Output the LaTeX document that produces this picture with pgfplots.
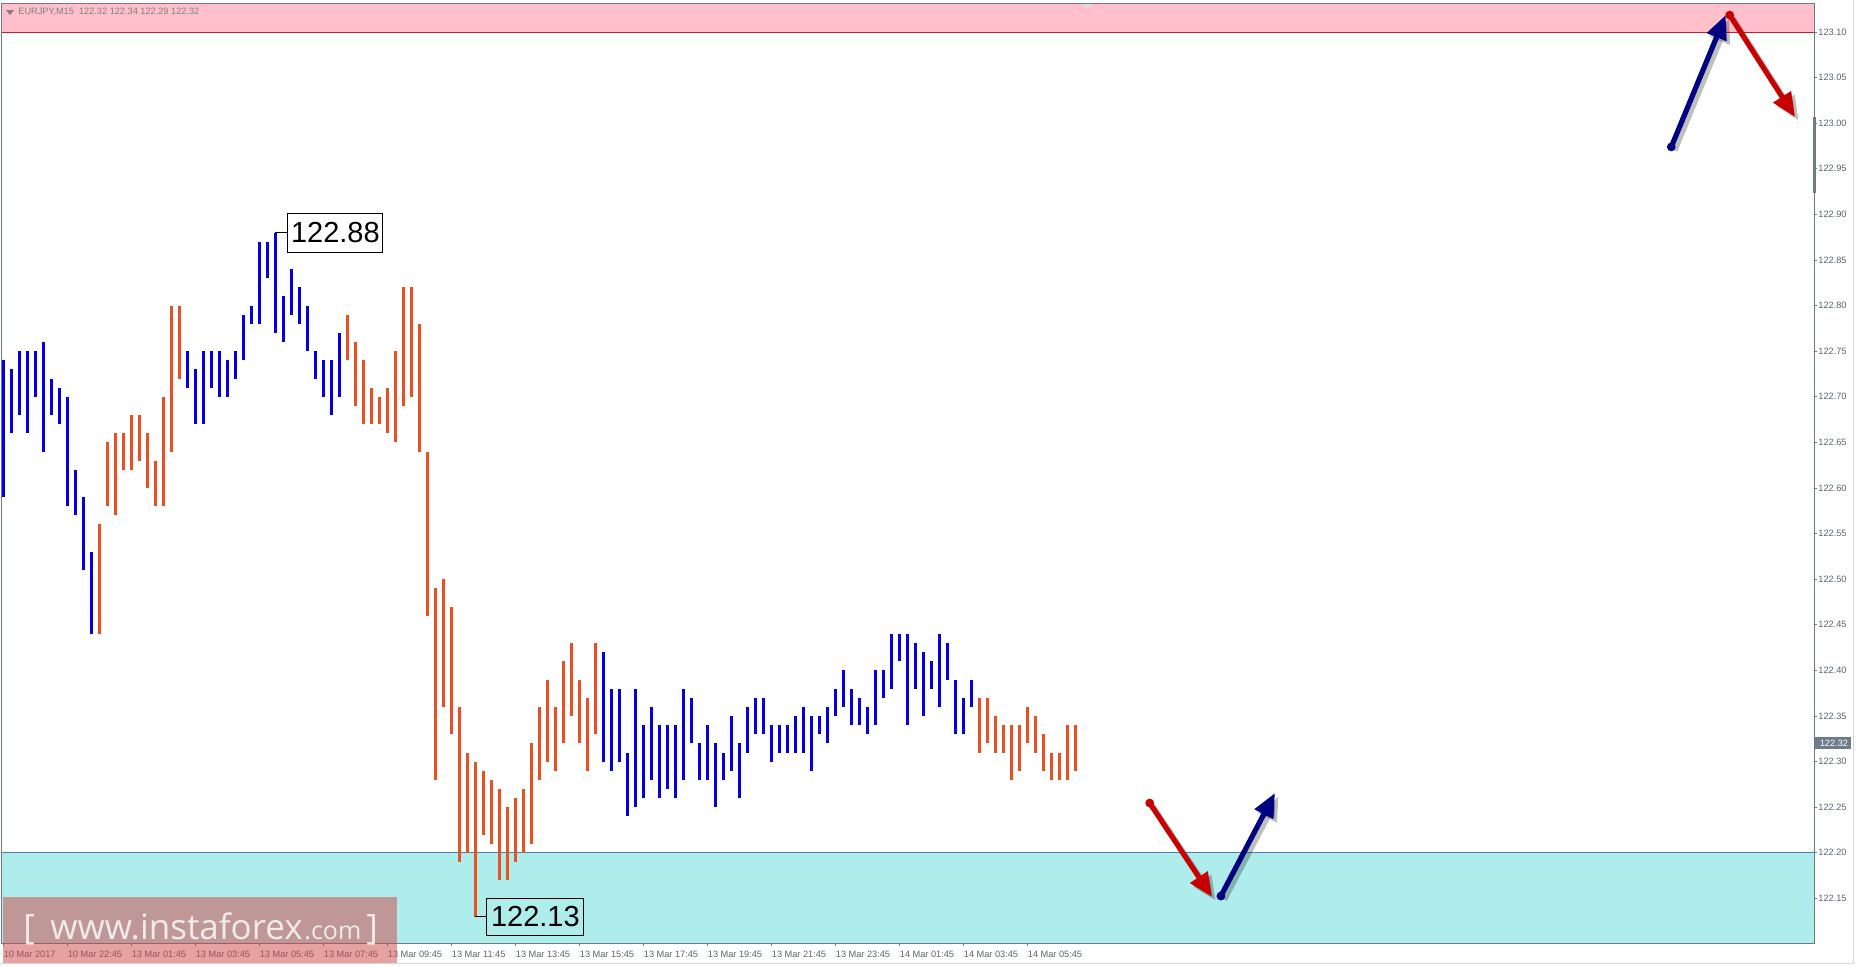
\documentclass[border=0pt]{standalone}
\usepackage{fontspec}
\setmainfont{Liberation Sans}
\newfontfamily\wmfont{Open Sans}
\usepackage{pgfplots}
\pgfplotsset{compat=1.18}
\usepackage{pgfplotstable}
\usetikzlibrary{arrows.meta}

\definecolor{barblue}{RGB}{0,0,225}
\definecolor{barorange}{RGB}{232,82,30}
\definecolor{zonepink}{RGB}{255,192,203}
\definecolor{zonecyan}{RGB}{175,236,236}
\definecolor{axisgray}{RGB}{110,124,138}
\definecolor{labelgray}{RGB}{90,100,112}
\definecolor{linered}{RGB}{205,30,40}
\definecolor{linecyan}{RGB}{70,130,180}
\definecolor{arrred}{RGB}{200,0,0}
\definecolor{arrblue}{RGB}{0,0,128}
\definecolor{wmbox}{RGB}{209,67,67}

\newcommand{\smallfont}{\fontsize{4.6}{5}\selectfont}
\newcommand{\bigfont}{\fontsize{14.5}{15}\selectfont}

% M15 bars: index, low, high
\pgfplotstableread{
x lo hi
0 122.59 122.74
1 122.66 122.73
2 122.68 122.75
3 122.66 122.75
4 122.70 122.75
5 122.64 122.76
6 122.68 122.72
7 122.67 122.71
8 122.58 122.70
9 122.57 122.62
10 122.51 122.59
11 122.44 122.53
23 122.71 122.75
24 122.67 122.73
25 122.67 122.75
26 122.71 122.75
27 122.70 122.75
28 122.70 122.74
29 122.72 122.75
30 122.74 122.79
31 122.78 122.80
32 122.78 122.87
33 122.83 122.87
34 122.77 122.88
35 122.76 122.81
36 122.79 122.84
37 122.78 122.82
38 122.75 122.80
39 122.72 122.75
40 122.70 122.74
41 122.68 122.74
42 122.70 122.77
75 122.30 122.42
76 122.29 122.38
77 122.30 122.38
78 122.24 122.31
79 122.25 122.38
80 122.26 122.34
81 122.28 122.36
82 122.26 122.34
83 122.27 122.34
84 122.26 122.34
85 122.28 122.38
86 122.32 122.37
87 122.28 122.32
88 122.28 122.34
89 122.25 122.32
90 122.28 122.31
91 122.29 122.35
92 122.26 122.32
93 122.31 122.36
94 122.33 122.37
95 122.33 122.37
96 122.30 122.34
97 122.31 122.34
98 122.31 122.34
99 122.31 122.35
100 122.31 122.36
101 122.29 122.35
102 122.33 122.35
103 122.32 122.36
104 122.35 122.38
105 122.36 122.40
106 122.34 122.38
107 122.34 122.37
108 122.33 122.36
109 122.34 122.40
110 122.37 122.40
111 122.38 122.44
112 122.41 122.44
113 122.34 122.44
114 122.38 122.43
115 122.35 122.42
116 122.38 122.41
117 122.36 122.44
118 122.39 122.43
119 122.33 122.39
120 122.33 122.37
121 122.36 122.39
}\bluebars

\pgfplotstableread{
x lo hi
12 122.44 122.56
13 122.58 122.65
14 122.57 122.66
15 122.62 122.66
16 122.62 122.68
17 122.63 122.68
18 122.60 122.66
19 122.58 122.63
20 122.58 122.70
21 122.64 122.80
22 122.72 122.80
43 122.74 122.79
44 122.69 122.76
45 122.67 122.74
46 122.67 122.71
47 122.67 122.70
48 122.66 122.71
49 122.65 122.75
50 122.69 122.82
51 122.70 122.82
52 122.64 122.78
53 122.46 122.64
54 122.28 122.49
55 122.36 122.50
56 122.33 122.47
57 122.19 122.36
58 122.20 122.31
59 122.13 122.30
60 122.22 122.29
61 122.21 122.28
62 122.17 122.27
63 122.17 122.25
64 122.19 122.26
65 122.20 122.27
66 122.21 122.32
67 122.28 122.36
68 122.30 122.39
69 122.29 122.36
70 122.32 122.41
71 122.35 122.43
72 122.32 122.39
73 122.29 122.37
74 122.33 122.43
122 122.31 122.37
123 122.32 122.37
124 122.31 122.35
125 122.31 122.34
126 122.28 122.34
127 122.29 122.34
128 122.32 122.36
129 122.31 122.35
130 122.29 122.33
131 122.28 122.31
132 122.28 122.31
133 122.28 122.34
134 122.29 122.34
}\orangebars

% one vertical high-low segment per row of a table
\newcommand{\drawbars}[2]{%
  \pgfplotstablegetrowsof{#1}%
  \pgfmathtruncatemacro\lastrow{\pgfplotsretval-1}%
  \pgfplotsforeachungrouped \r in {0,...,\lastrow}{%
    \pgfplotstablegetelem{\r}{x}\of{#1}\let\bx\pgfplotsretval
    \pgfplotstablegetelem{\r}{lo}\of{#1}\let\blo\pgfplotsretval
    \pgfplotstablegetelem{\r}{hi}\of{#1}\let\bhi\pgfplotsretval
    \edef\doplot{\noexpand\addplot[#2, line width=1.4pt, mark=none, forget plot]
      coordinates {(\bx,\blo) (\bx,\bhi)};}%
    \doplot
  }%
}

% wave arrow: colour, start, tip
\newcommand{\wavearrow}[3]{%
  \begin{scope}[xshift=1.8pt, yshift=-1.8pt]
    \draw[black, opacity=0.25, line width=2.6pt, -{Triangle[length=12pt,width=10pt]}] #2 -- #3;
  \end{scope}
  \draw[#1, line width=2.6pt, -{Triangle[length=12pt,width=10pt]}] #2 -- #3;
  \fill[#1] #2 circle (2.2pt);
}

\begin{document}
\begin{tikzpicture}
\path[use as bounding box] (0,0) rectangle (928pt,-483pt);
\begin{axis}[
    at={(1pt,-1.5pt)}, anchor=north west,
    scale only axis, width=906pt, height=470pt,
    xmin=-0.16, xmax=226.34,
    ymin=122.1011, ymax=123.1318,
    clip=false,
    axis on top,
    axis line style={axisgray, line width=0.5pt},
    every tick/.style={axisgray, line width=0.4pt},
    tick align=outside, major tick length=1.5pt,
    xtick pos=bottom, ytick pos=right, yticklabel pos=right,
    xtick={0,8,...,128},
    xticklabels={10 Mar 2017, 10 Mar 22:45, 13 Mar 01:45, 13 Mar 03:45,
      13 Mar 05:45, 13 Mar 07:45, 13 Mar 09:45, 13 Mar 11:45, 13 Mar 13:45,
      13 Mar 15:45, 13 Mar 17:45, 13 Mar 19:45, 13 Mar 21:45, 13 Mar 23:45,
      14 Mar 01:45, 14 Mar 03:45, 14 Mar 05:45},
    xticklabel style={font=\smallfont, text=labelgray, anchor=north west, inner sep=0.5pt,
      xshift=-0.4pt, yshift=-1.6pt},
    ytick={122.15,122.20,122.25,122.30,122.35,122.40,122.45,122.50,122.55,122.60,
      122.65,122.70,122.75,122.80,122.85,122.90,122.95,123.00,123.05,123.10},
    scaled y ticks=false,
    yticklabel style={font=\smallfont, text=labelgray, anchor=west, inner sep=0.5pt,
      /pgf/number format/.cd, fixed, fixed zerofill, precision=2, assume math mode=true},
  ]
  % support and resistance zones
  \fill[zonepink] (axis cs:-0.16,123.10) rectangle (axis cs:226.34,123.1318);
  \fill[zonecyan] (axis cs:-0.16,122.1011) rectangle (axis cs:226.34,122.20);
  \draw[linered, line width=0.5pt] (axis cs:-0.16,123.10) -- (axis cs:226.34,123.10);
  \draw[linecyan, line width=0.5pt] (axis cs:-0.16,122.20) -- (axis cs:226.34,122.20);

  \drawbars{\bluebars}{barblue}
  \drawbars{\orangebars}{barorange}

  % extreme labels
  \draw[black, line width=0.5pt] (axis cs:34,122.88) -- ++(6pt,0pt)
    node[anchor=west, draw, line width=0.6pt, inner sep=0pt, minimum width=47.5pt,
      minimum height=19.5pt, font=\bigfont] {122.88};
  \draw[black, line width=0.5pt] (axis cs:59,122.13) -- ++(5.5pt,0pt)
    node[anchor=west, draw, line width=0.6pt, inner sep=0pt, minimum width=48.5pt,
      minimum height=18.5pt, font=\bigfont] {122.13};

  % forecast arrows
  \wavearrow{arrred}{(axis cs:143.3,122.2546)}{(axis cs:151.1,122.1515)}
  \wavearrow{arrblue}{(axis cs:152.2,122.1526)}{(axis cs:158.96,122.2656)}
  \wavearrow{arrblue}{(axis cs:208.5,122.974)}{(axis cs:215.3,123.1186)}
  \wavearrow{arrred}{(axis cs:215.8,123.1186)}{(axis cs:223.96,123.0068)}

  % right scale extras
  \draw[axisgray, line width=1.5pt] (axis cs:226.34,123.007) -- (axis cs:226.34,122.923);
  \node[fill=axisgray, text=white, font=\smallfont, anchor=west, inner sep=0pt,
    minimum width=18.5pt, minimum height=6pt] at (axis cs:226.34,122.32) {\hspace{1pt}122.32};
  \fill[white!75!gray] (axis cs:135.5,123.1318) ++(-2.5pt,-0.5pt) -- ++(5pt,0pt) -- ++(-2.5pt,-2.5pt) -- cycle;
\end{axis}

% header
\fill[gray] (3pt,-5pt) -- (7pt,-5pt) -- (5pt,-7.5pt) -- cycle;
\node[anchor=west, inner sep=0pt, font=\smallfont, text=gray] at (9pt,-6pt)
  {EURJPY,M15\ \ 122.32 122.34 122.29 122.32};

% outer frame lines
\draw[black!15, line width=0.5pt] (926.5pt,0pt) -- (926.5pt,-481.5pt) -- (0pt,-481.5pt);

% watermark
\fill[wmbox, opacity=0.5] (1.5pt,-448.5pt) rectangle (198.5pt,-481.5pt);
\begin{scope}[text=white!92!gray, text opacity=0.9]
  \node[anchor=base west, inner sep=0pt, font=\wmfont\fontsize{17.5}{17.5}\selectfont] at (11.5pt,-469.5pt) {[};
  \node[anchor=base west, inner sep=0pt, font=\wmfont\fontsize{17.5}{17.5}\selectfont] at (25pt,-469.5pt) {www.instaforex};
  \node[anchor=base west, inner sep=0pt, font=\wmfont\fontsize{12.5}{12.5}\selectfont] at (152pt,-469.5pt) {.com};
  \node[anchor=base west, inner sep=0pt, font=\wmfont\fontsize{17.5}{17.5}\selectfont] at (183pt,-469.5pt) {]};
\end{scope}
\end{tikzpicture}
\end{document}
